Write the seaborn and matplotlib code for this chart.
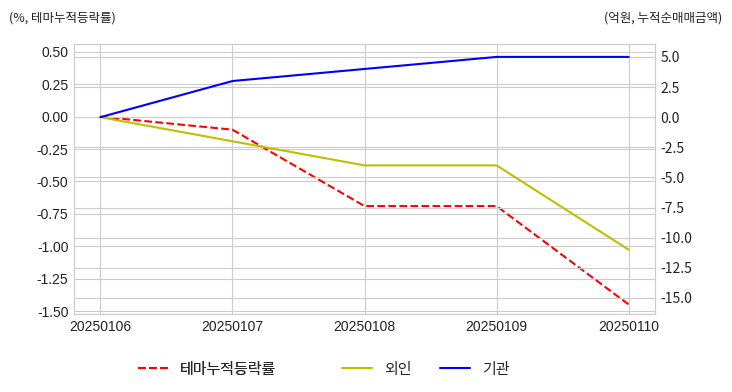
import matplotlib.pyplot as plt
import numpy as np
import pandas as pd
import seaborn as sns

# 날짜와 값
dates = ["20250106", "20250107", "20250108", "20250109", "20250110"]
theme_ret = [0.0, -0.10, -0.69, -0.69, -1.45]   # 테마누적등락률 (%)
foreign = [0.0, -2.0, -4.0, -4.0, -11.0]         # 외인 (억원)
inst = [0.0, 3.0, 4.0, 5.0, 5.0]                 # 기관 (억원)

sns.set_style("whitegrid")
plt.rcParams['font.family'] = ['Liberation Sans', 'Noto Sans CJK KR', 'DejaVu Sans']

df = pd.DataFrame({"date": dates, "theme": theme_ret, "foreign": foreign, "inst": inst})
df["x"] = np.arange(len(dates))

fig = plt.figure(figsize=(7.32, 3.92), dpi=100)
ax = fig.add_axes([0.101, 0.199, 0.794, 0.689])
ax2 = ax.twinx()

sns.lineplot(data=df, x="x", y="theme", ax=ax, color="r", linestyle="--", linewidth=1.5, label="테마누적등락률", legend=False)
sns.lineplot(data=df, x="x", y="foreign", ax=ax2, color="y", linewidth=1.5, label="외인", legend=False)
sns.lineplot(data=df, x="x", y="inst", ax=ax2, color="b", linewidth=1.5, label="기관", legend=False)

ax.set_xlim(-0.2, 4.2)
ax.set_ylim(-1.523, 0.562)
ax2.set_ylim(-16.33, 6.08)
ax.set_yticks([0.5, 0.25, 0, -0.25, -0.5, -0.75, -1.0, -1.25, -1.5])
ax2.set_yticks([5, 2.5, 0, -2.5, -5, -7.5, -10, -12.5, -15])
ax.set_yticklabels([f"{v:.2f}" for v in ax.get_yticks()])
ax2.set_yticklabels([f"{v:.1f}" for v in ax2.get_yticks()], family=['Noto Sans CJK KR'])
ax.set_xticks(df["x"])
ax.set_xticklabels(dates)
ax.set_xlabel("")
ax.set_ylabel("")
ax2.set_ylabel("")
ax2.grid(True, color="#cccccc", linewidth=0.8)
ax.grid(True, color="#cccccc", linewidth=0.8)
for a in (ax, ax2):
    a.tick_params(axis="both", labelsize=10, colors="#222222", length=0, pad=4)
    for s in a.spines.values():
        s.set_color("#cccccc")

fig.text(0.012, 0.955, "(%, 테마누적등락률)", fontsize=9, ha="left", va="center", family=['Noto Sans CJK KR'], color="#222222")
fig.text(0.987, 0.955, "(억원, 누적순매매금액)", fontsize=9, ha="right", va="center", family=['Noto Sans CJK KR'], color="#222222")

h1, l1 = ax.get_legend_handles_labels()
h2, l2 = ax2.get_legend_handles_labels()
leg_kw = dict(loc="center left", frameon=False, prop={"family": "Noto Sans CJK KR", "size": 10.8},
              handlelength=2.0, handletextpad=0.8, borderpad=0, borderaxespad=0, columnspacing=1.9)
leg1 = fig.legend(h1, l1, bbox_to_anchor=(0.1885, 0.057), ncol=1, **leg_kw)
fig.add_artist(leg1)
fig.legend(h2, l2, bbox_to_anchor=(0.467, 0.057), ncol=2, **leg_kw)

fig.savefig("out.png", dpi=100)
